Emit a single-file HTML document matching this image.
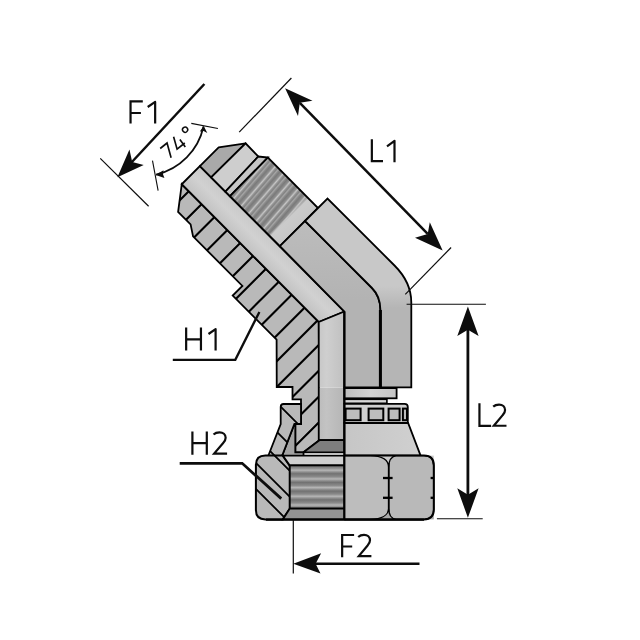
<!DOCTYPE html>
<html><head><meta charset="utf-8"><style>
html,body{margin:0;padding:0;background:#fff;width:640px;height:640px;overflow:hidden}
svg{display:block}
</style></head><body>
<svg width="640" height="640" viewBox="0 0 640 640">
<rect width="640" height="640" fill="#fff"/>
<defs>
<linearGradient id="gBore" gradientUnits="userSpaceOnUse" x1="248.75" y1="251.25" x2="266.88" y2="233.12">
 <stop offset="0" stop-color="#c2c2c2"/><stop offset="0.55" stop-color="#d1d1d1"/><stop offset="1" stop-color="#c9c9c9"/>
</linearGradient>
<linearGradient id="gVBore" x1="0" y1="0" x2="1" y2="0">
 <stop offset="0" stop-color="#c7c7c7"/><stop offset="0.3" stop-color="#cfcfcf"/><stop offset="1" stop-color="#c0c0c0"/>
</linearGradient>
<linearGradient id="gVBore2" x1="0" y1="0" x2="1" y2="0">
 <stop offset="0" stop-color="#bcbcbc"/><stop offset="0.3" stop-color="#c3c3c3"/><stop offset="1" stop-color="#b5b5b5"/>
</linearGradient>
<linearGradient id="gRunout" gradientUnits="userSpaceOnUse" x1="286.50" y1="216.50" x2="298.00" y2="228.00">
 <stop offset="0" stop-color="#c8c8c8" stop-opacity="0"/><stop offset="0.18" stop-color="#cbcbcb"/><stop offset="1" stop-color="#c7c7c7"/>
</linearGradient>
<linearGradient id="gThread" gradientUnits="userSpaceOnUse" spreadMethod="repeat" x1="242.50" y1="182.50" x2="250.53" y2="189.43">
 <stop offset="0" stop-color="#7a7a7a"/><stop offset="0.22" stop-color="#8e8e8e"/><stop offset="0.36" stop-color="#c6c6c6"/><stop offset="0.48" stop-color="#969696"/><stop offset="0.62" stop-color="#828282"/><stop offset="0.74" stop-color="#a6a6a6"/><stop offset="0.86" stop-color="#8a8a8a"/><stop offset="1" stop-color="#7a7a7a"/>
</linearGradient>
<linearGradient id="gNutThread" gradientUnits="userSpaceOnUse" spreadMethod="repeat" x1="0" y1="465" x2="0" y2="473.7">
 <stop offset="0" stop-color="#727272"/><stop offset="0.35" stop-color="#8a8a8a"/><stop offset="0.6" stop-color="#b6b6b6"/><stop offset="0.8" stop-color="#909090"/><stop offset="1" stop-color="#727272"/>
</linearGradient>
<linearGradient id="gRing" x1="0" y1="0" x2="1" y2="0">
 <stop offset="0" stop-color="#bdbdbd"/><stop offset="0.5" stop-color="#d2d2d2"/><stop offset="1" stop-color="#c4c4c4"/>
</linearGradient>
<linearGradient id="gBandB" gradientUnits="userSpaceOnUse" x1="0" y1="286" x2="0" y2="308">
 <stop offset="0" stop-color="#c8c8c8"/><stop offset="1" stop-color="#b5b5b5"/>
</linearGradient>
<linearGradient id="gBandA" gradientUnits="userSpaceOnUse" x1="0" y1="225" x2="0" y2="300">
 <stop offset="0" stop-color="#bcbcbc"/><stop offset="1" stop-color="#b3b3b3"/>
</linearGradient>
<linearGradient id="gNutCone" x1="0" y1="0" x2="1" y2="0">
 <stop offset="0" stop-color="#c6c6c6"/><stop offset="1" stop-color="#d0d0d0"/>
</linearGradient>
</defs>
<clipPath id="cSec"><polygon points="181.75,184.25 178.10,211.90 190.60,224.40 193.05,236.35 242.40,285.90 232.70,295.60 276.60,339.60 276.75,387.00 292.50,387.00 292.50,399.30 301.00,399.30 301.00,424.00 295.30,424.00 295.30,452.30 303.50,452.30 319.40,440.20 318.75,322.00"/></clipPath>
<polygon points="181.75,184.25 178.10,211.90 190.60,224.40 193.05,236.35 242.40,285.90 232.70,295.60 276.60,339.60 276.75,387.00 292.50,387.00 292.50,399.30 301.00,399.30 301.00,424.00 295.30,424.00 295.30,452.30 303.50,452.30 319.40,440.20 318.75,322.00" fill="#b9b9b9"/>
<path d="M60.00,320.00L210.00,170.00 M72.90,332.90L222.90,182.90 M85.80,345.80L235.80,195.80 M98.70,358.70L248.70,208.70 M111.60,371.60L261.60,221.60 M124.50,384.50L274.50,234.50 M137.40,397.40L287.40,247.40 M150.30,410.30L300.30,260.30 M163.20,423.20L313.20,273.20 M176.10,436.10L326.10,286.10 M189.00,449.00L339.00,299.00 M201.90,461.90L351.90,311.90 M214.80,474.80L364.80,324.80 M227.70,487.70L377.70,337.70 M240.60,500.60L390.60,350.60 M253.50,513.50L403.50,363.50" stroke="#000" stroke-width="2.1" clip-path="url(#cSec)"/>
<polygon points="181.75,184.25 178.10,211.90 190.60,224.40 193.05,236.35 242.40,285.90 232.70,295.60 276.60,339.60 276.75,387.00 292.50,387.00 292.50,399.30 301.00,399.30 301.00,424.00 295.30,424.00 295.30,452.30 303.50,452.30 319.40,440.20 318.75,322.00" fill="none" stroke="#000" stroke-width="1.8" stroke-linejoin="miter"/>
<polygon points="181.75,184.25 199.88,166.12 344.40,311.50 318.75,322.00" fill="url(#gBore)" stroke="#000" stroke-width="1.8"/>
<polygon points="318.75,322.00 344.40,311.50 344.40,387.60 318.75,387.60" fill="url(#gVBore)"/>
<rect x="318.75" y="387.6" width="25.65" height="52.6" fill="url(#gVBore2)"/>
<polygon points="318.75,322.00 344.40,311.50 344.40,440.20 318.75,440.20" fill="none" stroke="#000" stroke-width="1.8"/>
<polygon points="319.4,440.2 344.40,440.2 344.40,452.3 303.5,452.3" fill="#7e7e7e" stroke="#000" stroke-width="1.8"/>
<polygon points="199.88,166.12 218.65,147.35 245.60,143.40 211.12,177.38" fill="#a9a9a9" stroke="#000" stroke-width="1.8" stroke-linejoin="round"/>
<polygon points="211.12,177.38 245.60,143.40 258.30,156.50 225.38,191.62" fill="#cecece" stroke="#000" stroke-width="1.8"/>
<polygon points="225.38,191.62 258.30,156.50 267.90,157.50 229.97,196.22" fill="#c6c6c6" stroke="#000" stroke-width="1.8"/>
<polygon points="229.97,196.22 267.90,157.50 318.00,208.00 279.88,246.12" fill="url(#gThread)"/>
<polygon points="268.38,234.62 306.50,196.50 318.00,208.00 279.88,246.12" fill="url(#gRunout)"/>
<polygon points="229.97,196.22 267.90,157.50 318.00,208.00 279.88,246.12" fill="none" stroke="#000" stroke-width="1.8"/>
<path d="M279.88,246.12 L305.00,221.00 L372.00,288.00 Q380.40,296.40 380.40,310.00 L380.4,387.3 L344.40,387.3 L344.40,311.50 Z" fill="url(#gBandA)" stroke="#000" stroke-width="1.8" stroke-linejoin="miter"/>
<path d="M305.00,221.00 L327.50,198.50 L394.50,265.50 Q411.30,282.30 411.30,302.50 L411.3,387.3 L380.4,387.3 L380.40,310.00 Q380.40,296.40 372.00,288.00 Z" fill="url(#gBandB)" stroke="#000" stroke-width="1.8" stroke-linejoin="miter"/>
<line x1="380.4" y1="310" x2="380.4" y2="387.3" stroke="#000" stroke-width="3"/>
<rect x="344.40" y="388.1" width="52.20" height="10.2" fill="url(#gRing)" stroke="#000" stroke-width="1.8"/>
<rect x="344.40" y="399.3" width="42.50" height="4" fill="#d6d6d6" stroke="#000" stroke-width="1.6"/>
<path d="M344.40,403.8 L404.5,403.8 Q407.8,403.8 407.8,407 L407.8,422.8 L344.40,422.8 Z" fill="#cfcfcf" stroke="#000" stroke-width="1.8"/>
<rect x="345.60" y="408.6" width="15.00" height="11.6" fill="#bdbdbd" stroke="#000" stroke-width="2"/>
<rect x="368.60" y="408.6" width="14.70" height="11.6" fill="#bdbdbd" stroke="#000" stroke-width="2"/>
<rect x="388.60" y="408.6" width="11.00" height="11.6" fill="#bdbdbd" stroke="#000" stroke-width="2"/>
<rect x="402.90" y="408.6" width="4.10" height="11.6" fill="#bdbdbd" stroke="#000" stroke-width="2"/>
<polygon points="344.40,423 408.1,423 420.6,455.6 344.40,455.6" fill="url(#gNutCone)" stroke="#000" stroke-width="1.8"/>
<polygon points="294.4,424 295.3,424 295.3,452.3 303.5,452.3 303.5,456 282,456" fill="#a4a4a4" stroke="#000" stroke-width="1.8"/>
<clipPath id="cNcs"><path d="M283.5,404 L301,404 L301,424 L294.4,424 L282,456 L268.2,456 L280.7,424 L280.7,407 Q280.7,404 283.5,404 Z"/></clipPath>
<path d="M283.5,404 L301,404 L301,424 L294.4,424 L282,456 L268.2,456 L280.7,424 L280.7,407 Q280.7,404 283.5,404 Z" fill="#b9b9b9"/>
<path d="M250.00,376.00L320.00,446.00 M250.00,405.00L320.00,475.00 M250.00,431.00L320.00,501.00" stroke="#000" stroke-width="1.8" clip-path="url(#cNcs)"/>
<path d="M283.5,404 L301,404 L301,424 L294.4,424 L282,456 L268.2,456 L280.7,424 L280.7,407 Q280.7,404 283.5,404 Z" fill="none" stroke="#000" stroke-width="1.8"/>
<clipPath id="cNsec"><path d="M265.4,455.6 L282.8,455.6 L289.8,466 L289.8,508.6 L282.8,519.4 L265.4,519.4 Q255.9,519.4 255.9,510 L255.9,465 Q255.9,455.6 265.4,455.6 Z"/></clipPath>
<path d="M265.4,455.6 L282.8,455.6 L289.8,466 L289.8,508.6 L282.8,519.4 L265.4,519.4 Q255.9,519.4 255.9,510 L255.9,465 Q255.9,455.6 265.4,455.6 Z" fill="#b9b9b9"/>
<path d="M240.00,395.00L300.00,455.00 M240.00,421.00L300.00,481.00 M240.00,447.00L300.00,507.00 M240.00,473.00L300.00,533.00 M240.00,499.00L300.00,559.00" stroke="#000" stroke-width="1.8" clip-path="url(#cNsec)"/>
<path d="M265.4,455.6 L282.8,455.6 L289.8,466 L289.8,508.6 L282.8,519.4 L265.4,519.4 Q255.9,519.4 255.9,510 L255.9,465 Q255.9,455.6 265.4,455.6 Z" fill="none" stroke="#000" stroke-width="2"/>
<polygon points="282.8,455.6 344.40,455.6 344.40,465.4 289.8,465.4" fill="#d0d0d0" stroke="#000" stroke-width="1.8"/>
<rect x="289.8" y="465.4" width="54.60" height="43.2" fill="url(#gNutThread)" stroke="#000" stroke-width="1.8"/>
<polygon points="289.8,508.6 344.40,508.6 344.40,519.4 282.8,519.4" fill="#939393" stroke="#000" stroke-width="1.8"/>
<rect x="344.40" y="455.6" width="89.40" height="32" fill="#cbcbcb"/>
<rect x="344.40" y="487.6" width="89.40" height="31.8" fill="#a9a9a9"/>
<path d="M344.40,455.6 L370,455.6 C380,455.8 388.7,459 388.7,467.5 L388.7,508 C388.7,516 380,519.2 370,519.4 L344.40,519.4 Z" fill="#bdbdbd" stroke="#000" stroke-width="1.3"/>
<path d="M396,455.6 L424,455.6 Q433.8,455.6 433.8,465.4 L433.8,509.6 Q433.8,519.4 424,519.4 L396,519.4 C391,518.6 388.7,514 388.7,508 L388.7,467.5 C388.7,461 391,456.5 396,455.6 Z" fill="#b9b9b9" stroke="#000" stroke-width="1.3"/>
<line x1="388.7" y1="463" x2="388.7" y2="512" stroke="#000" stroke-width="1.7"/>
<path d="M344.40,455.6 L424,455.6 Q433.8,455.6 433.8,465.4 L433.8,509.6 Q433.8,519.4 424,519.4 L344.40,519.4" fill="none" stroke="#000" stroke-width="2"/>
<line x1="383.00" y1="478.00" x2="392.60" y2="478.00" stroke="#000" stroke-width="2.3"/>
<line x1="383.00" y1="497.80" x2="392.60" y2="497.80" stroke="#000" stroke-width="2.3"/>
<line x1="430.60" y1="478.00" x2="433.80" y2="478.00" stroke="#000" stroke-width="2.3"/>
<line x1="430.60" y1="497.80" x2="433.80" y2="497.80" stroke="#000" stroke-width="2.3"/>
<line x1="344.40" y1="311.5" x2="344.40" y2="519.6" stroke="#000" stroke-width="2"/>
<line x1="266" y1="519.6" x2="424" y2="519.6" stroke="#000" stroke-width="2.4"/>
<line x1="204.40" y1="84.00" x2="131.00" y2="163.00" stroke="#0d0d0d" stroke-width="2.50"/>
<polygon points="117.40,177.20 129.45,149.60 132.20,161.90 143.70,164.90" fill="#0d0d0d"/>
<line x1="100.25" y1="158.40" x2="148.60" y2="206.20" stroke="#0d0d0d" stroke-width="1.20"/>
<line x1="239.20" y1="132.10" x2="291.40" y2="78.00" stroke="#0d0d0d" stroke-width="1.20"/>
<line x1="405.30" y1="294.40" x2="451.10" y2="247.50" stroke="#0d0d0d" stroke-width="1.20"/>
<line x1="299.80" y1="102.80" x2="427.70" y2="233.90" stroke="#0d0d0d" stroke-width="2.50"/>
<polygon points="285.10,88.30 298.00,115.90 299.80,102.80 312.50,100.75" fill="#0d0d0d"/>
<polygon points="442.65,250.50 429.80,222.20 427.70,233.90 415.00,237.65" fill="#0d0d0d"/>
<line x1="406.60" y1="304.25" x2="485.90" y2="304.25" stroke="#0d0d0d" stroke-width="1.20"/>
<line x1="436.90" y1="518.75" x2="482.70" y2="518.75" stroke="#0d0d0d" stroke-width="1.20"/>
<line x1="467.90" y1="329.00" x2="467.90" y2="495.50" stroke="#0d0d0d" stroke-width="2.80"/>
<polygon points="467.90,306.40 457.30,335.90 467.90,329.80 478.60,335.90" fill="#0d0d0d"/>
<polygon points="467.90,517.80 457.30,488.30 467.90,494.80 478.60,488.30" fill="#0d0d0d"/>
<line x1="293.30" y1="519.70" x2="293.30" y2="573.60" stroke="#0d0d0d" stroke-width="1.20"/>
<line x1="315.00" y1="563.75" x2="419.50" y2="563.75" stroke="#0d0d0d" stroke-width="2.60"/>
<polygon points="293.30,563.75 321.10,553.25 315.60,563.75 320.50,573.60" fill="#0d0d0d"/>
<polyline points="172.8,359.8 235.3,359.8 259.4,311.9" fill="none" stroke="#0d0d0d" stroke-width="2.3"/>
<polyline points="179.7,463.3 242.2,463.3 281.25,498.6" fill="none" stroke="#0d0d0d" stroke-width="2.8"/>
<path d="M156.11,174.70 A63.50,63.50 0 0 0 203.52,126.54" fill="none" stroke="#0d0d0d" stroke-width="1.75"/>
<polygon points="155.70,174.90 163.50,170.20 163.00,174.20 164.40,177.90" fill="#0d0d0d"/>
<polygon points="203.70,126.10 199.80,131.60 203.60,131.00 207.30,133.10" fill="#0d0d0d"/>
<g transform="translate(168.96,159.5) rotate(-38.5)"><path d="M0,-14.07 H8.74 L2.74,0 M17.76,-14.88 L12.84,-3.07 H22.67 M21,-8.84 L20.63,0.31" fill="none" stroke="#0d0d0d" stroke-width="1.65"/><circle cx="31.2" cy="-13.3" r="2.6" fill="none" stroke="#0d0d0d" stroke-width="1.45"/></g>
<line x1="152.50" y1="160.60" x2="158.10" y2="190.60" stroke="#0d0d0d" stroke-width="1.10"/>
<line x1="191.30" y1="123.40" x2="217.90" y2="128.50" stroke="#0d0d0d" stroke-width="1.10"/>
<path d="M130.55,123.60 V100.20 M129.45,101.30 H142.80 M130.55,113.00 H140.90" fill="none" stroke="#0d0d0d" stroke-width="2.20" stroke-linecap="butt" stroke-linejoin="miter"/>
<path d="M155.15,123.60 V101.90 L147.70,107.00" fill="none" stroke="#0d0d0d" stroke-width="2.20" stroke-linecap="butt" stroke-linejoin="round"/>
<path d="M371.85,139.20 V161.20 H383.00" fill="none" stroke="#0d0d0d" stroke-width="2.20" stroke-linecap="butt" stroke-linejoin="miter"/>
<path d="M394.50,162.30 V140.80 L387.00,146.30" fill="none" stroke="#0d0d0d" stroke-width="2.20" stroke-linecap="butt" stroke-linejoin="round"/>
<path d="M479.45,403.20 V425.80 H491.10" fill="none" stroke="#0d0d0d" stroke-width="2.20" stroke-linecap="butt" stroke-linejoin="miter"/>
<path d="M493.21,406.64 C495.01,404.95 497.03,404.54 499.04,404.54 C502.58,404.54 505.08,406.64 505.08,409.93 C505.08,412.13 504.10,413.64 502.67,415.12 L493.81,425.75 H506.49" fill="none" stroke="#0d0d0d" stroke-width="2.20" stroke-linecap="butt" stroke-linejoin="miter"/>
<path d="M342.15,557.30 V533.90 M341.05,535.00 H354.10 M342.15,546.50 H352.20" fill="none" stroke="#0d0d0d" stroke-width="2.20" stroke-linecap="butt" stroke-linejoin="miter"/>
<path d="M358.20,537.00 C360.00,535.31 362.00,534.89 364.00,534.89 C367.51,534.89 370.00,537.00 370.00,540.29 C370.00,542.50 369.02,544.01 367.60,545.49 L358.80,556.15 H371.40" fill="none" stroke="#0d0d0d" stroke-width="2.20" stroke-linecap="butt" stroke-linejoin="miter"/>
<path d="M186.15,327.50 V350.50 M200.95,327.50 V350.50 M186.15,339.40 H200.95" fill="none" stroke="#0d0d0d" stroke-width="2.20" stroke-linecap="butt" stroke-linejoin="miter"/>
<path d="M215.60,350.50 V329.10 L208.50,334.00" fill="none" stroke="#0d0d0d" stroke-width="2.20" stroke-linecap="butt" stroke-linejoin="round"/>
<path d="M192.40,431.60 V454.70 M206.80,431.60 V454.70 M192.40,443.20 H206.80" fill="none" stroke="#0d0d0d" stroke-width="2.20" stroke-linecap="butt" stroke-linejoin="miter"/>
<path d="M213.51,434.49 C215.36,432.80 217.42,432.39 219.47,432.39 C223.09,432.39 225.65,434.49 225.65,437.77 C225.65,439.96 224.64,441.46 223.18,442.94 L214.13,453.55 H227.09" fill="none" stroke="#0d0d0d" stroke-width="2.20" stroke-linecap="butt" stroke-linejoin="miter"/>
</svg>
</body></html>
